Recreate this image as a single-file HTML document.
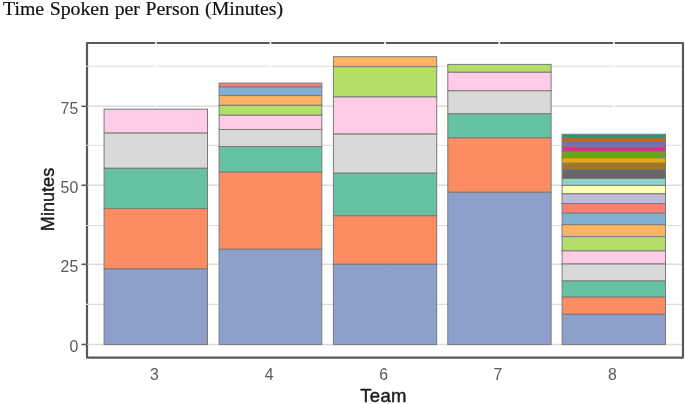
<!DOCTYPE html>
<html lang="en"><head><meta charset="utf-8"><title>Time Spoken per Person (Minutes)</title>
<style>
html,body{margin:0;padding:0;background:#fff;}
body{width:685px;height:404px;overflow:hidden;}
svg{display:block;filter:blur(0.3px);font-family:"Liberation Sans",Arial,sans-serif;}
</style></head><body>
<svg width="685" height="404" viewBox="0 0 685 404">
<rect width="685" height="404" fill="#fff"/>
<rect x="87.0" y="43.0" width="596.0" height="314.6" fill="none" stroke="#595959" stroke-width="2.2" stroke-linejoin="round"/>
<line x1="85.9" x2="682.0" y1="304.40" y2="304.40" stroke="#dcdcdc" stroke-width="1.1"/>
<line x1="85.9" x2="682.0" y1="225.50" y2="225.50" stroke="#dcdcdc" stroke-width="1.1"/>
<line x1="85.9" x2="682.0" y1="145.30" y2="145.30" stroke="#dcdcdc" stroke-width="1.1"/>
<line x1="85.9" x2="682.0" y1="66.20" y2="66.20" stroke="#dcdcdc" stroke-width="1.1"/>
<line x1="87.5" x2="682.0" y1="344.50" y2="344.50" stroke="#dcdcdc" stroke-width="1.4"/>
<line x1="87.5" x2="682.0" y1="264.30" y2="264.30" stroke="#dcdcdc" stroke-width="1.4"/>
<line x1="87.5" x2="682.0" y1="185.30" y2="185.30" stroke="#dcdcdc" stroke-width="1.4"/>
<line x1="87.5" x2="682.0" y1="106.30" y2="106.30" stroke="#dcdcdc" stroke-width="1.4"/>
<line x1="155.8" x2="155.8" y1="39.0" y2="344.5" stroke="#fff" stroke-width="1.6"/>
<line x1="270.45" x2="270.45" y1="39.0" y2="344.5" stroke="#fff" stroke-width="1.6"/>
<line x1="385.05" x2="385.05" y1="39.0" y2="344.5" stroke="#fff" stroke-width="1.6"/>
<line x1="499.35" x2="499.35" y1="39.0" y2="344.5" stroke="#fff" stroke-width="1.6"/>
<line x1="613.8" x2="613.8" y1="39.0" y2="344.5" stroke="#fff" stroke-width="1.6"/>
<line x1="81.5" x2="87.0" y1="344.50" y2="344.50" stroke="#595959" stroke-width="1.6"/>
<line x1="81.5" x2="87.0" y1="264.30" y2="264.30" stroke="#595959" stroke-width="1.6"/>
<line x1="81.5" x2="87.0" y1="185.30" y2="185.30" stroke="#595959" stroke-width="1.6"/>
<line x1="81.5" x2="87.0" y1="106.30" y2="106.30" stroke="#595959" stroke-width="1.6"/>
<rect x="104.10" y="109.20" width="103.40" height="23.90" fill="#FCCDE5" stroke="#7a7a7a" stroke-width="1"/>
<rect x="104.10" y="133.10" width="103.40" height="35.20" fill="#D9D9D9" stroke="#7a7a7a" stroke-width="1"/>
<rect x="104.10" y="168.30" width="103.40" height="40.20" fill="#66C2A5" stroke="#7a7a7a" stroke-width="1"/>
<rect x="104.10" y="208.50" width="103.40" height="60.50" fill="#FC8D62" stroke="#7a7a7a" stroke-width="1"/>
<rect x="104.10" y="269.00" width="103.40" height="75.60" fill="#8DA0CB" stroke="#7a7a7a" stroke-width="1"/>
<rect x="219.10" y="83.10" width="102.70" height="3.90" fill="#FB8072" stroke="#7a7a7a" stroke-width="1"/>
<rect x="219.10" y="87.00" width="102.70" height="8.60" fill="#80B1D3" stroke="#7a7a7a" stroke-width="1"/>
<rect x="219.10" y="95.60" width="102.70" height="9.70" fill="#FDB462" stroke="#7a7a7a" stroke-width="1"/>
<rect x="219.10" y="105.30" width="102.70" height="9.90" fill="#B3DE69" stroke="#7a7a7a" stroke-width="1"/>
<rect x="219.10" y="115.20" width="102.70" height="14.30" fill="#FCCDE5" stroke="#7a7a7a" stroke-width="1"/>
<rect x="219.10" y="129.50" width="102.70" height="17.00" fill="#D9D9D9" stroke="#7a7a7a" stroke-width="1"/>
<rect x="219.10" y="146.50" width="102.70" height="25.60" fill="#66C2A5" stroke="#7a7a7a" stroke-width="1"/>
<rect x="219.10" y="172.10" width="102.70" height="77.20" fill="#FC8D62" stroke="#7a7a7a" stroke-width="1"/>
<rect x="219.10" y="249.30" width="102.70" height="95.30" fill="#8DA0CB" stroke="#7a7a7a" stroke-width="1"/>
<rect x="333.40" y="56.70" width="103.30" height="10.00" fill="#FDB462" stroke="#7a7a7a" stroke-width="1"/>
<rect x="333.40" y="66.70" width="103.30" height="30.30" fill="#B3DE69" stroke="#7a7a7a" stroke-width="1"/>
<rect x="333.40" y="97.00" width="103.30" height="37.10" fill="#FCCDE5" stroke="#7a7a7a" stroke-width="1"/>
<rect x="333.40" y="134.10" width="103.30" height="39.10" fill="#D9D9D9" stroke="#7a7a7a" stroke-width="1"/>
<rect x="333.40" y="173.20" width="103.30" height="42.60" fill="#66C2A5" stroke="#7a7a7a" stroke-width="1"/>
<rect x="333.40" y="215.80" width="103.30" height="48.50" fill="#FC8D62" stroke="#7a7a7a" stroke-width="1"/>
<rect x="333.40" y="264.30" width="103.30" height="80.30" fill="#8DA0CB" stroke="#7a7a7a" stroke-width="1"/>
<rect x="447.80" y="64.40" width="103.30" height="7.90" fill="#B3DE69" stroke="#7a7a7a" stroke-width="1"/>
<rect x="447.80" y="72.30" width="103.30" height="18.50" fill="#FCCDE5" stroke="#7a7a7a" stroke-width="1"/>
<rect x="447.80" y="90.80" width="103.30" height="23.00" fill="#D9D9D9" stroke="#7a7a7a" stroke-width="1"/>
<rect x="447.80" y="113.80" width="103.30" height="24.10" fill="#66C2A5" stroke="#7a7a7a" stroke-width="1"/>
<rect x="447.80" y="137.90" width="103.30" height="54.40" fill="#FC8D62" stroke="#7a7a7a" stroke-width="1"/>
<rect x="447.80" y="192.30" width="103.30" height="152.30" fill="#8DA0CB" stroke="#7a7a7a" stroke-width="1"/>
<rect x="562.10" y="134.30" width="103.40" height="3.70" fill="#1B9E77" stroke="#7a7a7a" stroke-width="1"/>
<rect x="562.10" y="138.00" width="103.40" height="3.60" fill="#D95F02" stroke="#7a7a7a" stroke-width="1"/>
<rect x="562.10" y="141.60" width="103.40" height="4.90" fill="#7570B3" stroke="#7a7a7a" stroke-width="1"/>
<rect x="562.10" y="146.50" width="103.40" height="4.80" fill="#E7298A" stroke="#7a7a7a" stroke-width="1"/>
<rect x="562.10" y="151.30" width="103.40" height="6.40" fill="#66A61E" stroke="#7a7a7a" stroke-width="1"/>
<rect x="562.10" y="157.70" width="103.40" height="5.60" fill="#E6AB02" stroke="#7a7a7a" stroke-width="1"/>
<rect x="562.10" y="163.30" width="103.40" height="6.30" fill="#A6761D" stroke="#7a7a7a" stroke-width="1"/>
<rect x="562.10" y="169.60" width="103.40" height="8.90" fill="#666666" stroke="#7a7a7a" stroke-width="1"/>
<rect x="562.10" y="178.50" width="103.40" height="6.90" fill="#8DD3C7" stroke="#7a7a7a" stroke-width="1"/>
<rect x="562.10" y="185.40" width="103.40" height="8.40" fill="#FFFFB3" stroke="#7a7a7a" stroke-width="1"/>
<rect x="562.10" y="193.80" width="103.40" height="9.80" fill="#BEBADA" stroke="#7a7a7a" stroke-width="1"/>
<rect x="562.10" y="203.60" width="103.40" height="9.60" fill="#FB8072" stroke="#7a7a7a" stroke-width="1"/>
<rect x="562.10" y="213.20" width="103.40" height="11.50" fill="#80B1D3" stroke="#7a7a7a" stroke-width="1"/>
<rect x="562.10" y="224.70" width="103.40" height="11.90" fill="#FDB462" stroke="#7a7a7a" stroke-width="1"/>
<rect x="562.10" y="236.60" width="103.40" height="14.30" fill="#B3DE69" stroke="#7a7a7a" stroke-width="1"/>
<rect x="562.10" y="250.90" width="103.40" height="13.10" fill="#FCCDE5" stroke="#7a7a7a" stroke-width="1"/>
<rect x="562.10" y="264.00" width="103.40" height="17.00" fill="#D9D9D9" stroke="#7a7a7a" stroke-width="1"/>
<rect x="562.10" y="281.00" width="103.40" height="16.10" fill="#66C2A5" stroke="#7a7a7a" stroke-width="1"/>
<rect x="562.10" y="297.10" width="103.40" height="17.20" fill="#FC8D62" stroke="#7a7a7a" stroke-width="1"/>
<rect x="562.10" y="314.30" width="103.40" height="30.30" fill="#8DA0CB" stroke="#7a7a7a" stroke-width="1"/>
<text x="78.2" y="351.90" text-anchor="end" font-size="15.8" fill="#5a5a5a">0</text>
<text x="78.2" y="271.70" text-anchor="end" font-size="15.8" fill="#5a5a5a">25</text>
<text x="78.2" y="192.70" text-anchor="end" font-size="15.8" fill="#5a5a5a">50</text>
<text x="78.2" y="113.70" text-anchor="end" font-size="15.8" fill="#5a5a5a">75</text>
<text x="154.40" y="379.6" text-anchor="middle" font-size="15.8" fill="#5a5a5a">3</text>
<text x="269.05" y="379.6" text-anchor="middle" font-size="15.8" fill="#5a5a5a">4</text>
<text x="383.65" y="379.6" text-anchor="middle" font-size="15.8" fill="#5a5a5a">6</text>
<text x="497.95" y="379.6" text-anchor="middle" font-size="15.8" fill="#5a5a5a">7</text>
<text x="612.40" y="379.6" text-anchor="middle" font-size="15.8" fill="#5a5a5a">8</text>
<text x="383.5" y="401.5" text-anchor="middle" font-size="18.5" fill="#1a1a1a" stroke="#1a1a1a" stroke-width="0.42" letter-spacing="0.35">Team</text>
<text transform="translate(54.0,199.5) rotate(-90)" text-anchor="middle" font-size="18.1" fill="#1a1a1a" stroke="#1a1a1a" stroke-width="0.42">Minutes</text>
<text x="3.0" y="15.1" word-spacing="0.7" font-family="'Liberation Serif', 'Times New Roman', serif" font-size="19.8" fill="#111" stroke="#111" stroke-width="0.2">Time Spoken per Person (Minutes)</text>
</svg>
</body></html>
